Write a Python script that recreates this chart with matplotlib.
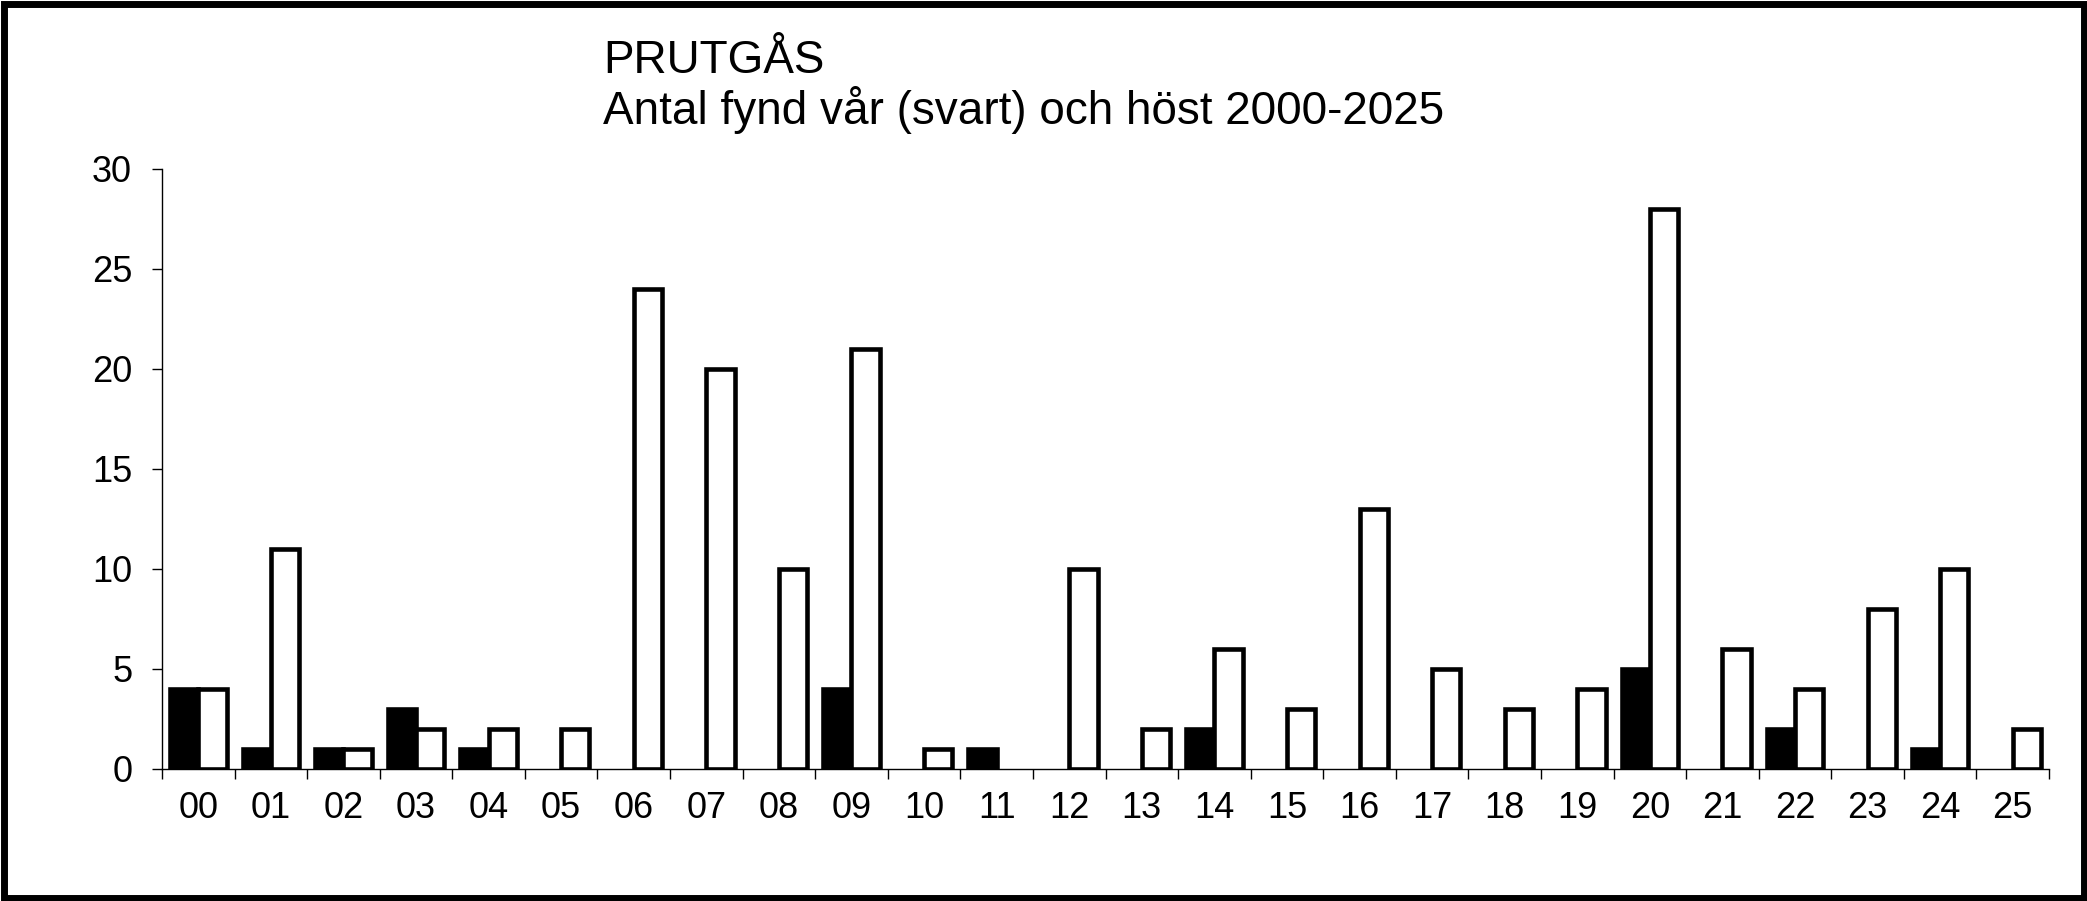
import numpy as np
import matplotlib
matplotlib.use("Agg")
import matplotlib.pyplot as plt
from matplotlib.patches import Rectangle

# Data: number of finds per year, spring (black) and autumn (white)
years = ["00", "01", "02", "03", "04", "05", "06", "07", "08", "09", "10", "11", "12",
         "13", "14", "15", "16", "17", "18", "19", "20", "21", "22", "23", "24", "25"]
spring = [4, 1, 1, 3, 1, 0, 0, 0, 0, 4, 0, 1, 0, 0, 2, 0, 0, 0, 0, 0, 5, 0, 2, 0, 1, 0]
autumn = [4, 11, 1, 2, 2, 2, 24, 20, 10, 21, 1, 0, 10, 2, 6, 3, 13, 5, 3, 4, 28, 6, 4, 8, 10, 2]
yticks = [0, 5, 10, 15, 20, 25, 30]

plt.rcParams['font.family'] = ['Liberation Sans', 'DejaVu Sans']

W, H = 2087, 901
fig = plt.figure(figsize=(W / 100, H / 100), dpi=100)
ax = fig.add_axes([162 / W, 1 - 769 / H, (2049 - 162) / W, (769 - 169) / H])

x = np.arange(len(years))
bw = 0.39
lw = 3.3
# zero values get no outline, as in the original
spring_lw = np.where(np.array(spring) > 0, lw, 0)
autumn_lw = np.where(np.array(autumn) > 0, lw, 0)

ax.bar(x - bw / 2, spring, bw, color='black', edgecolor='black', linewidth=spring_lw, zorder=3)
ax.bar(x + bw / 2, autumn, bw, color='white', edgecolor='black', linewidth=autumn_lw, zorder=3)

ax.set_xlim(-0.5, len(years) - 0.5)
ax.set_ylim(0, 30)
ax.set_yticks(yticks)
ax.set_xticks(x)
ax.set_xticklabels(years)
ax.set_xticks(np.arange(len(years) + 1) - 0.5, minor=True)

ax.tick_params(axis='x', which='major', length=0, pad=16, labelsize=26)
ax.tick_params(axis='x', which='minor', length=7.5, width=1, direction='out')
ax.tick_params(axis='y', length=7.5, width=1, pad=14, labelsize=26, direction='out')

for side in ['top', 'right']:
    ax.spines[side].set_visible(False)
for side in ['left', 'bottom']:
    ax.spines[side].set_linewidth(1)
    ax.spines[side].set_zorder(4)

# Title, two lines
fig.text(603 / W, 1 - 73 / H, "PRUTGÅS", fontsize=33, ha='left', va='baseline')
fig.text(603 / W, 1 - 124 / H, "Antal fynd vår (svart) och höst 2000-2025",
         fontsize=33, ha='left', va='baseline')

# Border around the whole picture
fig.patches.append(Rectangle((3.5 / W, 3.5 / H), 1 - 7 / W, 1 - 7 / H,
                             transform=fig.transFigure, fill=False,
                             edgecolor='black', linewidth=5))

fig.savefig("out.png", dpi=100)
